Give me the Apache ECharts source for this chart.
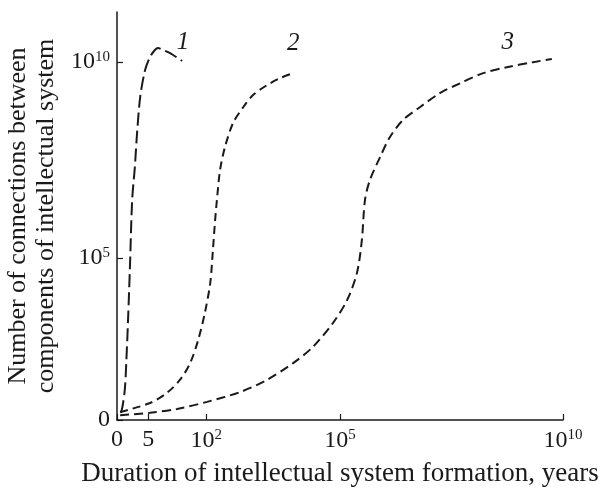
<!DOCTYPE html>
<html>
<head>
<meta charset="utf-8">
<script src="https://cdn.jsdelivr.net/npm/echarts@6/dist/echarts.min.js"></script>
<style>
html,body{margin:0;padding:0;background:#fff;}
#c{width:599px;height:489px;}
</style>
</head>
<body>
<div id="c"></div>
<script>
// x: log10(duration, years) on the schematic axis; y: log10(number of connections)
const curve1X = [0.09, 0.13, 0.18, 0.22, 0.25, 0.29, 0.34, 0.40, 0.45, 0.52, 0.63, 0.74, 0.85, 0.92, 1.03, 1.19, 1.46];
const curve1Y = [1.05, 1.25, 1.71, 2.65, 3.49, 4.77, 6.48, 7.32, 8.19, 9.11, 9.80, 10.13, 10.31, 10.36, 10.31, 10.23, 10.03];
const curve2X = [0.07, 0.74, 1.12, 1.41, 1.64, 1.82, 1.97, 2.09, 2.15, 2.20, 2.24, 2.31, 2.42, 2.60, 2.83, 3.05, 3.36, 3.65, 3.95];
const curve2Y = [1.07, 1.30, 1.56, 1.89, 2.32, 2.91, 3.60, 4.36, 5.20, 5.97, 6.48, 7.24, 7.83, 8.44, 8.85, 9.16, 9.41, 9.59, 9.72];
const curve3X = [0.07, 0.74, 1.35, 2.02, 2.76, 3.36, 3.95, 4.39, 4.84, 5.16, 5.38, 5.49, 5.56, 5.67, 5.90, 6.12, 6.41, 6.79, 7.24, 7.69, 8.21, 8.74, 9.33, 9.75];
const curve3Y = [0.99, 1.05, 1.15, 1.33, 1.58, 1.89, 2.32, 2.73, 3.34, 3.93, 4.62, 5.46, 6.48, 6.99, 7.58, 8.09, 8.52, 8.85, 9.21, 9.46, 9.72, 9.87, 10.00, 10.08];
const curveNames = ['1', '2', '3'];

const xTickValues = [0, 0.699, 2, 5, 10];
const xTickLabels = ['0', '5', '10^2', '10^5', '10^10'];
const yTickValues = [0.867, 5, 10];
const yTickLabels = ['0', '10^5', '10^10'];

const xTitle = 'Duration of intellectual system formation, years';
const yTitle = 'Number of connections between\ncomponents of intellectual system';

const FONT = '"Liberation Serif", "DejaVu Serif", serif';
const INK = '#1a1a1a';

function richLabel(s) {
  const parts = s.split('^');
  return parts.length === 2 ? '{b|' + parts[0] + '}{s|' + parts[1] + '}' : '{b|' + s + '}';
}
function lookup(values, labels) {
  return function (v) {
    for (let i = 0; i < values.length; i++) {
      if (Math.abs(values[i] - v) < 1e-6) return richLabel(labels[i]);
    }
    return '';
  };
}
const rich = {
  b: { fontSize: 24, fontFamily: FONT, color: INK },
  s: { fontSize: 15, fontFamily: FONT, color: INK, verticalAlign: 'top', padding: [0, 0, 10, 0] }
};

function zip(xs, ys) { return xs.map((x, i) => [x, ys[i]]); }

const labelOffsets = [[1, -19], [0, -30], [-44, -17]];
const dashes = [[13, 5], [8, 5], [9, 5]];
const curves = [[curve1X, curve1Y], [curve2X, curve2Y], [curve3X, curve3Y]];

const series = curves.map((c, i) => {
  const data = zip(c[0], c[1]);
  const last = data[data.length - 1];
  return {
    type: 'line',
    name: curveNames[i],
    data: data,
    smooth: 0.3,
    showSymbol: false,
    symbol: 'none',
    lineStyle: { color: INK, width: 2, type: dashes[i] },
    markPoint: {
      symbol: 'circle',
      symbolSize: 0,
      data: [{ coord: last }],
      label: {
        show: true,
        position: 'inside',
        offset: labelOffsets[i],
        formatter: curveNames[i],
        fontFamily: FONT,
        fontStyle: 'italic',
        fontSize: 25,
        color: INK
      }
    }
  };
});

const chart = echarts.init(document.getElementById('c'), null, { renderer: 'canvas' });
chart.setOption({
  animation: false,
  backgroundColor: '#fff',
  grid: { left: 117, right: 36, top: 12, bottom: 69, containLabel: false, outerBoundsMode: 'none' },
  xAxis: {
    type: 'value',
    min: 0,
    max: 10,
    name: xTitle,
    nameLocation: 'middle',
    nameGap: 40,
    nameTextStyle: { fontFamily: FONT, fontSize: 27, color: INK },
    axisLine: { show: true, onZero: false, lineStyle: { color: INK, width: 1.5 } },
    axisTick: { show: true, inside: true, length: 6, customValues: xTickValues, lineStyle: { color: INK, width: 1.2 } },
    axisLabel: { show: true, customValues: xTickValues, margin: 8, formatter: lookup(xTickValues, xTickLabels), rich: rich },
    splitLine: { show: false }
  },
  yAxis: {
    type: 'value',
    min: 0.867,
    max: 11.28,
    name: yTitle,
    nameLocation: 'middle',
    nameGap: 53,
    nameRotate: 90,
    nameTextStyle: { fontFamily: FONT, fontSize: 26, color: INK, lineHeight: 28 },
    axisLine: { show: true, onZero: false, lineStyle: { color: INK, width: 1.5 } },
    axisTick: { show: true, inside: true, length: 6, customValues: yTickValues, lineStyle: { color: INK, width: 1.2 } },
    axisLabel: { show: true, customValues: yTickValues, margin: 7, formatter: lookup(yTickValues, yTickLabels), rich: rich },
    splitLine: { show: false }
  },
  series: series
});
</script>
</body>
</html>
